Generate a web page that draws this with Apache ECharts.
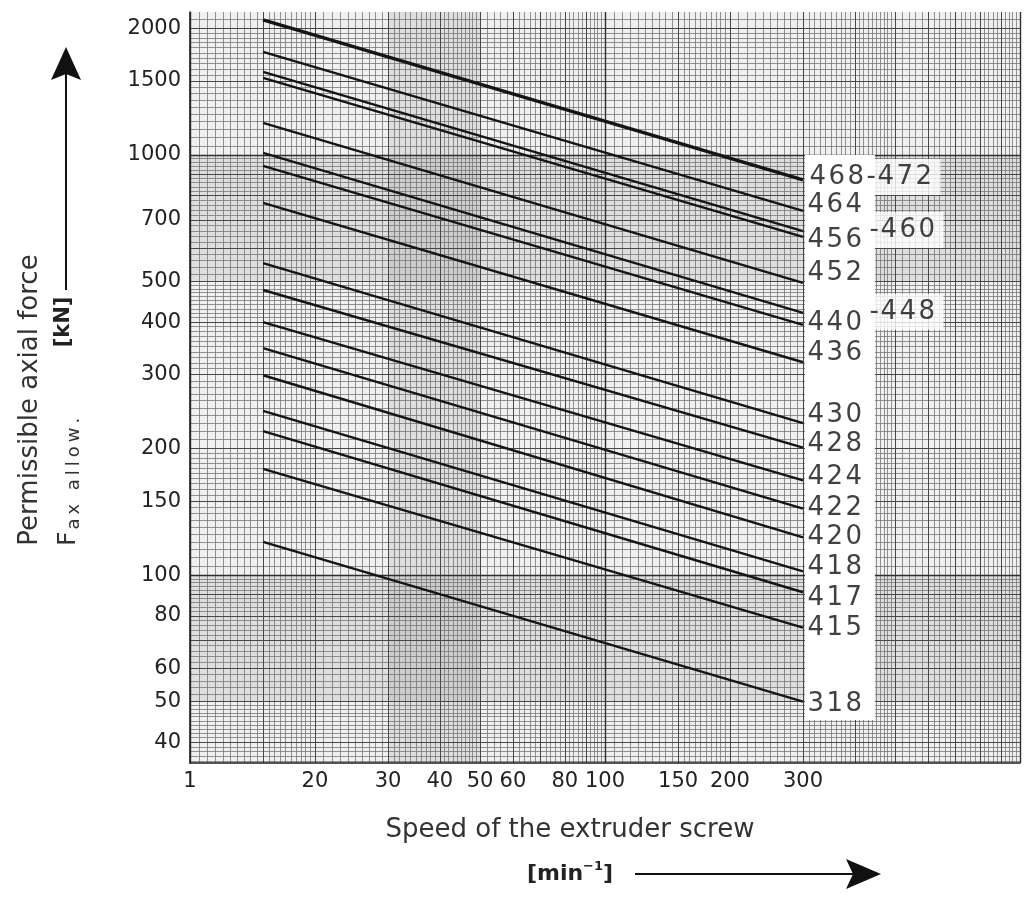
<!DOCTYPE html>
<html><head><meta charset="utf-8">
<script src="https://cdn.jsdelivr.net/npm/echarts@6/dist/echarts.min.js"></script>
<style>html,body{margin:0;padding:0;background:#fff}#c{width:1026px;height:899px}</style>
</head><body><div id="c"></div>
<script>
// ---- data ----
const speedRange = [15, 300];
const typeLabels = ['468-472','464','-460','456','452','-448','440','436','430','428','424','422','420','418','417','415','318'];
const forceAt15  = [2096,1759,1576,1525,1192,1011,942,769,553,477,400,347,299,246,220,179,120];
const forceAt300 = [872,736,659,638,496,421,394,321,230,201,168,144,123,102,91,75,50];
const xTickValues = [10,20,30,40,50,60,80,100,150,200,300];
const xTickLabels = ['1','20','30','40','50','60','80','100','150','200','300'];
const yTickValues = [40,50,60,80,100,150,200,300,400,500,700,1000,1500,2000];

// ---- styling helpers (not data) ----
const labelOffsets = [[0,-3],[0,-6],[60,-1],[0,3],[0,-10],[60,-1],[0,-2],[0,-9],[0,-8],[0,-3],[0,-3],[0,0],[0,0],[0,-4],[0,6],[0,1],[0,3]];
const boxed = {'468-472':true,'-460':true,'-448':true};

function range(a,b,step){const r=[];for(let v=a; v<=b+1e-9; v+=step) r.push(Math.round(v*1000)/1000); return r;}
const xMin=10, xMax=1000, yMin=35.7, yMax=2189;
const xFine = Array.from(new Set([].concat(range(10,20,0.5),range(20,50,1),range(50,100,2),range(100,200,5),range(200,500,10),range(500,1000,20))));
const yFine = Array.from(new Set([].concat(range(36,50,1),range(50,100,2),range(100,200,5),range(200,500,10),range(500,1000,20),range(1000,2000,50),range(2000,2100,100))));
const xMajor = [15,20,30,40,50,60,70,80,90,150,200,300,400,500,600,700,800,900];
const yMajor = [40,50,60,70,80,90,150,200,300,400,500,600,700,800,900,1500,2000];
const xDecade = [10,100,1000], yDecade = [100,1000];
const fineStyle = {color:'#777', width:0.8, type:'solid'};
const majorStyle = {color:'#474747', width:1, type:'solid'};
const decadeStyle = {color:'#2e2e2e', width:1.4, type:'solid'};
const gridLines = [];
xFine.forEach(v=>{ if(xMajor.indexOf(v)<0 && xDecade.indexOf(v)<0) gridLines.push({xAxis:v, lineStyle:fineStyle}); });
yFine.forEach(v=>{ if(yMajor.indexOf(v)<0 && yDecade.indexOf(v)<0) gridLines.push({yAxis:v, lineStyle:fineStyle}); });
xMajor.forEach(v=>gridLines.push({xAxis:v, lineStyle:majorStyle}));
yMajor.forEach(v=>gridLines.push({yAxis:v, lineStyle:majorStyle}));
xDecade.forEach(v=>gridLines.push({xAxis:v, lineStyle:decadeStyle}));
yDecade.forEach(v=>gridLines.push({yAxis:v, lineStyle:decadeStyle}));

// spread characters in rich tokens (letter spacing)
function spaced(str, cls, hyCls){
  return str.split('').map(ch => '{' + ((ch==='-' && hyCls) ? hyCls : cls) + '|' + ch + '}').join('');
}

const FONT = '"DejaVu Sans", sans-serif';
const series = [];
series.push({
  type:'line', data:[], silent:true,
  markLine:{silent:true, symbol:['none','none'], label:{show:false}, z:2, animation:false, data:gridLines},
  markArea:{silent:true, z:1, itemStyle:{color:'rgba(0,0,0,0.075)'}, label:{show:false},
    data:[[{xAxis:xMin,yAxis:500},{xAxis:xMax,yAxis:1000}],
          [{xAxis:xMin,yAxis:50},{xAxis:xMax,yAxis:100}],
          [{xAxis:30,yAxis:yMin},{xAxis:50,yAxis:yMax}]]}
});
series.push({
  type:'line', data:[], silent:true,
  markArea:{silent:true, z:3, itemStyle:{color:'#ffffff'}, label:{show:false},
    data:[[{xAxis:303.3,yAxis:1000},{xAxis:447,yAxis:45.2}]]}
});
typeLabels.forEach((t,i)=>{
  series.push({
    type:'line', name:t, z:4, silent:true, symbol:'none',
    lineStyle:{color:'#151515', width: i===0 ? 3.5 : 2.4},
    data:[[speedRange[0], forceAt15[i]],[speedRange[1], forceAt300[i]]]
  });
});
const labelRich = {
  dg:{fontFamily:FONT, fontSize:26, color:'#111', width:19, lineHeight:30},
  hy:{fontFamily:FONT, fontSize:26, color:'#111', width:11, lineHeight:30}
};
series.push({
  type:'scatter', z:5, silent:true, symbol:'circle', symbolSize:1,
  itemStyle:{color:'rgba(0,0,0,0)'},
  label:{show:true, position:'right', distance:4, rich:labelRich},
  data: typeLabels.map((t,i)=>({
    value:[speedRange[1], forceAt300[i]],
    label:{formatter:()=>spaced(t,'dg','hy'), offset:labelOffsets[i],
      backgroundColor: boxed[t] ? '#fff' : 'transparent',
      padding: boxed[t] ? [3,6,3,2] : 0}
  }))
});

const chart = echarts.init(document.getElementById('c'));
chart.setOption({
  animation:false,
  backgroundColor:'#fff',
  grid:{left:190, right:6, top:12, bottom:136, show:true, backgroundColor:'#f0f0f0', borderWidth:0},
  xAxis:{type:'log', logBase:10, min:xMin, max:xMax, z:6,
    axisLine:{show:true, lineStyle:{color:'#222', width:1.6}},
    axisTick:{show:false}, splitLine:{show:false}, minorSplitLine:{show:false},
    axisLabel:{customValues:xTickValues, margin:8, fontFamily:FONT, fontSize:21, color:'#222',
      formatter:(v)=>{const k=xTickValues.indexOf(Math.round(v)); return k>=0?xTickLabels[k]:'';}}
  },
  yAxis:{type:'log', logBase:10, min:yMin, max:yMax, z:6,
    axisLine:{show:true, lineStyle:{color:'#222', width:1.6}},
    axisTick:{show:false}, splitLine:{show:false}, minorSplitLine:{show:false},
    axisLabel:{customValues:yTickValues, margin:9, fontFamily:FONT, fontSize:21, color:'#222',
      formatter:(v)=>String(Math.round(v))}
  },
  series: series,
  graphic:[
    {type:'text', x:30, y:400, rotation:Math.PI/2, silent:true,
      style:{text:'Permissible axial force', font:'26px "DejaVu Sans"', fill:'#333', align:'center', verticalAlign:'middle'}},
    {type:'text', x:68, y:546, rotation:Math.PI/2, silent:true,
      style:{text:'{f|F}' + spaced('ax allow.','s'), align:'left', verticalAlign:'middle',
        rich:{f:{fontFamily:FONT, fontSize:25, fill:'#333', lineHeight:30, verticalAlign:'middle', padding:[0,2,0,0]},
              s:{fontFamily:FONT, fontSize:18, fill:'#333', lineHeight:30, verticalAlign:'bottom', padding:[0,4,0,0]}}}},
    {type:'text', x:64, y:322, rotation:Math.PI/2, silent:true,
      style:{text:'[kN]', font:'bold 21px "DejaVu Sans"', fill:'#222', align:'center', verticalAlign:'middle'}},
    {type:'line', silent:true, shape:{x1:66,y1:290,x2:66,y2:72}, style:{stroke:'#111', lineWidth:2}},
    {type:'polygon', silent:true, shape:{points:[[66,47],[51,80],[66,74],[81,80]]}, style:{fill:'#111'}},
    {type:'text', x:570, y:830, silent:true,
      style:{text:'Speed of the extruder screw', font:'26px "DejaVu Sans"', fill:'#333', align:'center', verticalAlign:'middle'}},
    {type:'text', x:570, y:874, silent:true,
      style:{text:'{b|[min}{sup|−1}{b|]}', align:'center', verticalAlign:'middle',
        rich:{b:{fontFamily:FONT, fontWeight:'bold', fontSize:22, fill:'#222', lineHeight:28, verticalAlign:'middle'},
              sup:{fontFamily:FONT, fontWeight:'bold', fontSize:13, fill:'#222', lineHeight:28, verticalAlign:'top'}}}},
    {type:'line', silent:true, shape:{x1:635,y1:874,x2:855,y2:874}, style:{stroke:'#111', lineWidth:2}},
    {type:'polygon', silent:true, shape:{points:[[881,874],[846,859],[853,874],[846,889]]}, style:{fill:'#111'}}
  ]
});
</script></body></html>
